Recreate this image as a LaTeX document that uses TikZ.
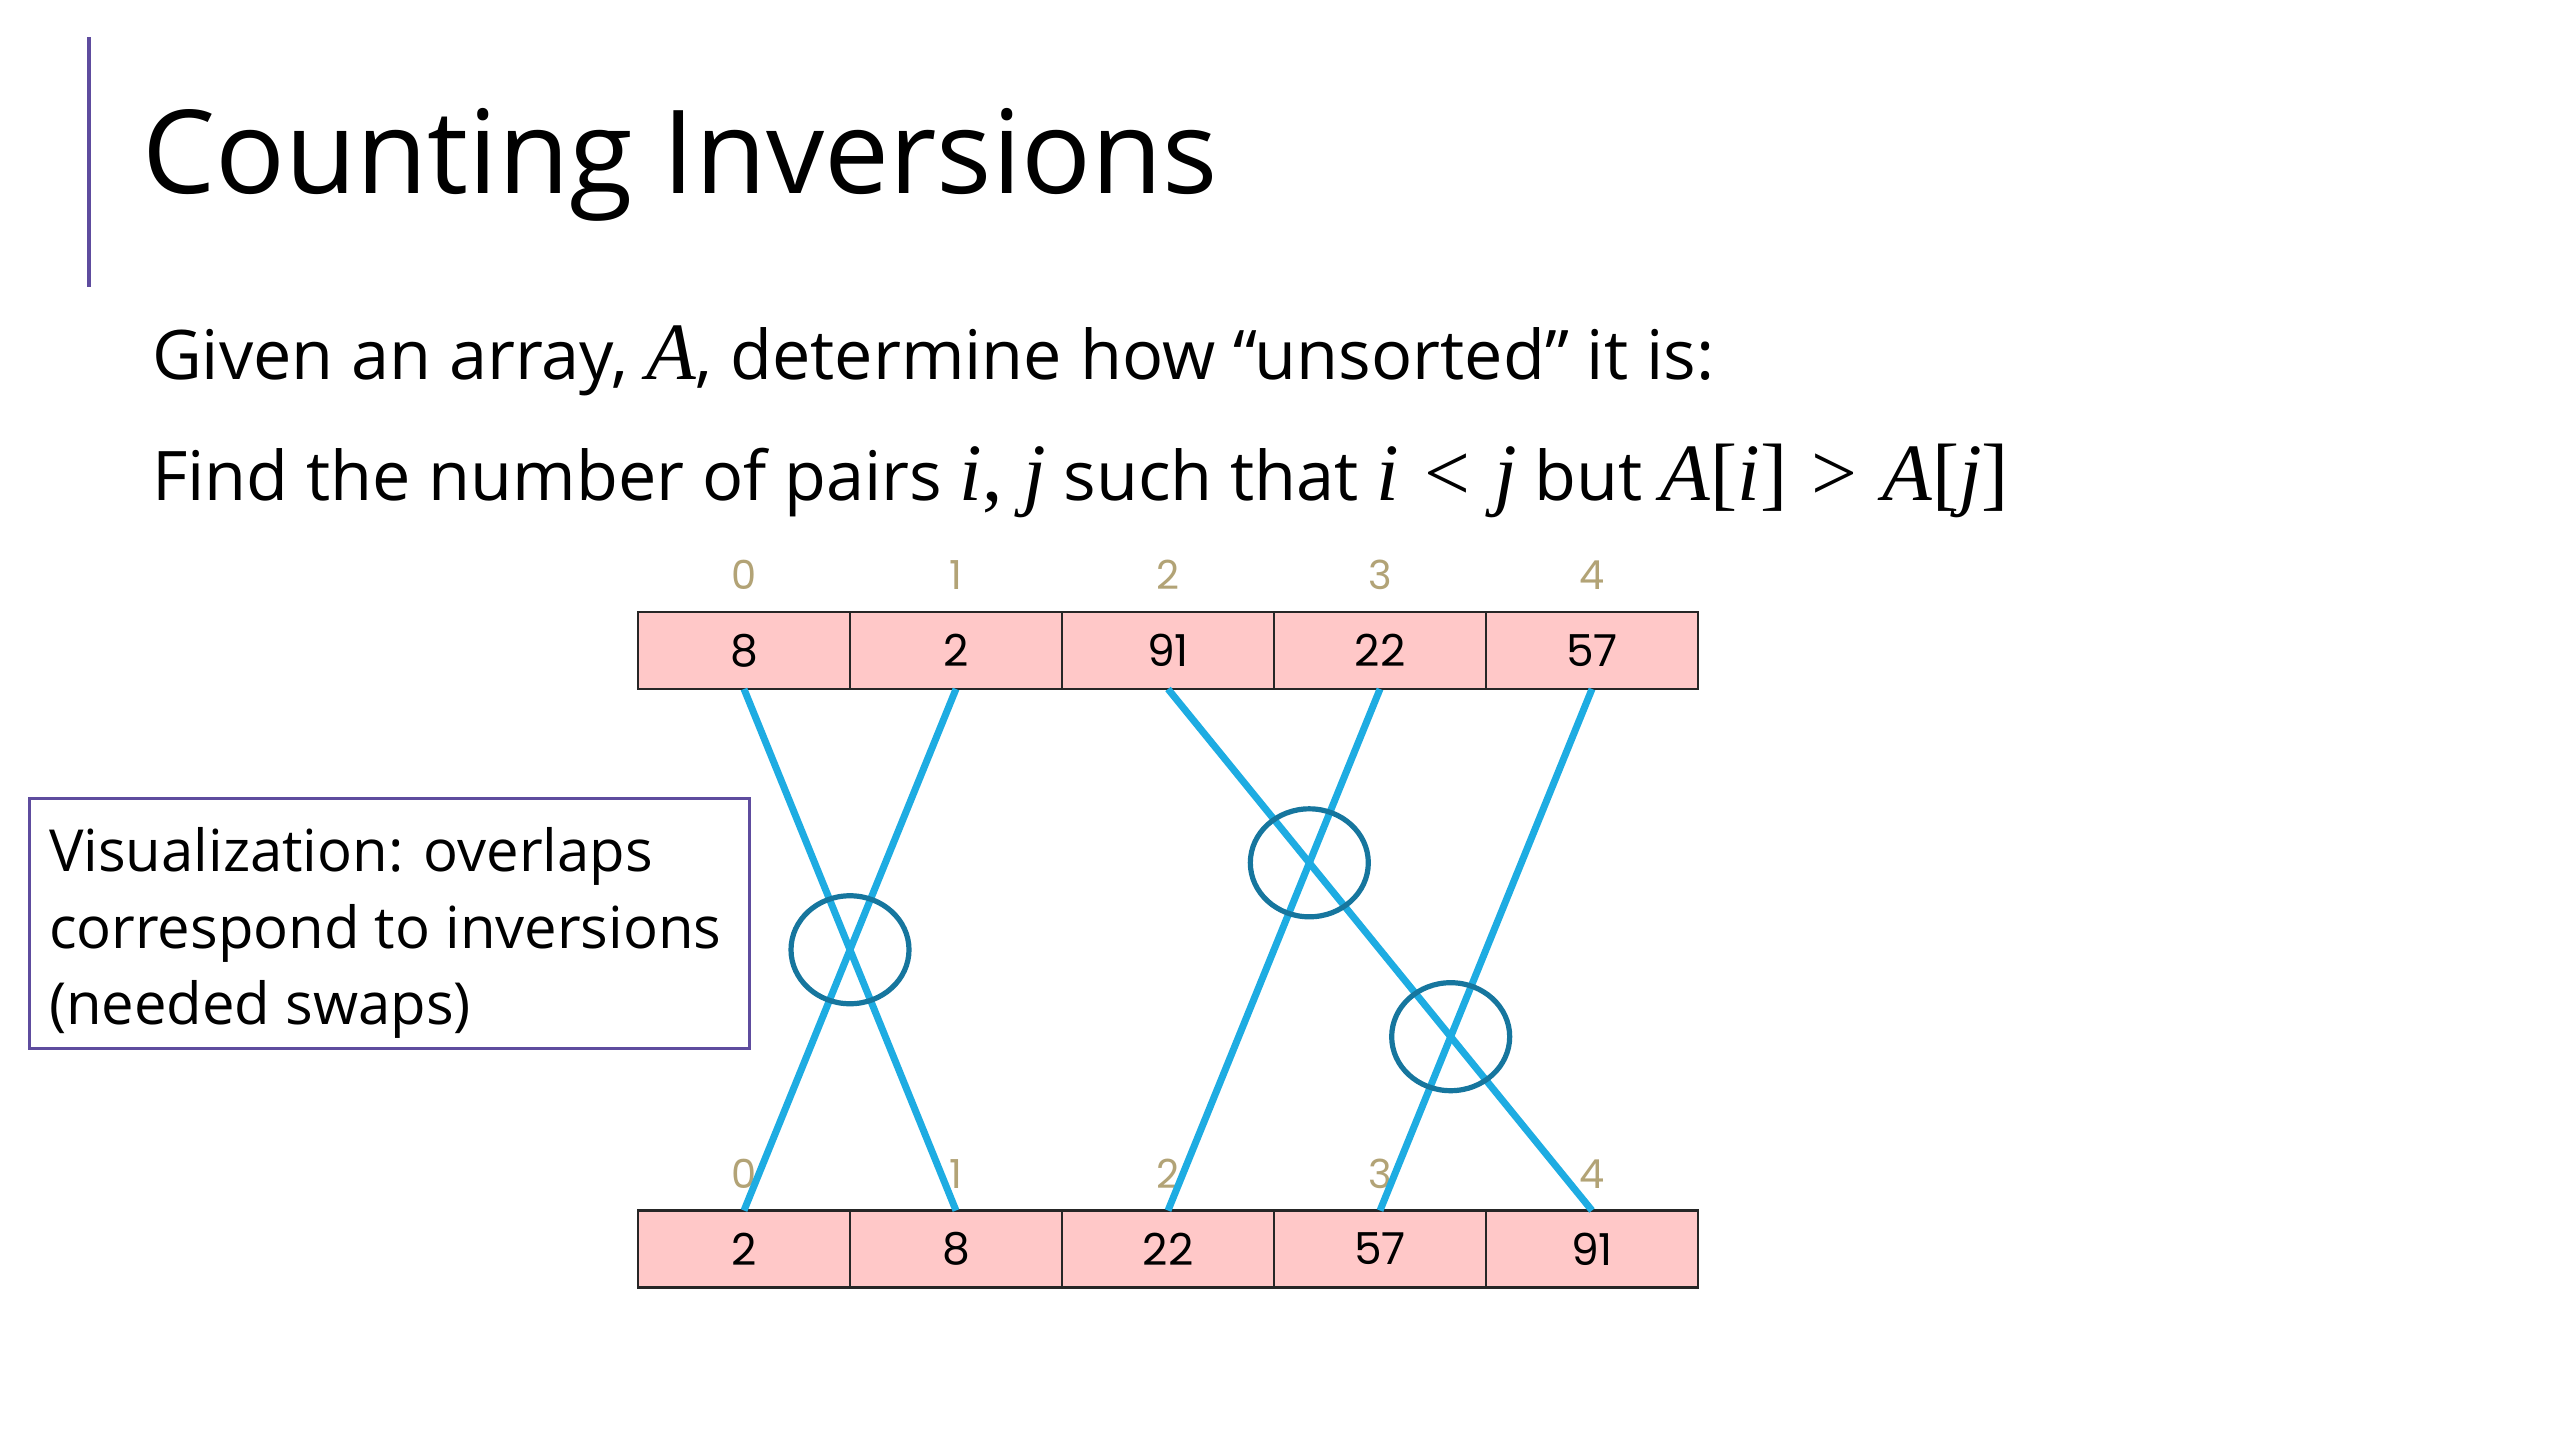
\documentclass[tikz,border=0pt]{standalone}
\usepackage{fontspec}
\setmainfont{Open Sans}
\newfontfamily\digitfont{Poppins}
\newfontfamily\mfont[Scale=1.19]{Liberation Serif}
\newcommand\mv[1]{{\mfont\itshape #1}}
\newcommand\ms[1]{{\mfont #1}}
\newcommand\rel[1]{\hspace{0.36em}\ms{#1}\hspace{0.36em}}
\usetikzlibrary{calc}
\definecolor{accentpurple}{RGB}{94,76,158}
\definecolor{cellpink}{RGB}{255,200,200}
\definecolor{idxtan}{RGB}{178,163,118}
\definecolor{linkblue}{RGB}{30,172,226}
\definecolor{ringteal}{RGB}{22,118,158}
\tikzset{
  cell/.style={draw=black!85, line width=1.1pt, fill=cellpink, minimum width=106pt, minimum height=38.5pt, inner sep=0pt, outer sep=0pt, font=\digitfont\fontsize{22}{26}\selectfont},
  idx/.style={text=idxtan, inner sep=0pt, font=\digitfont\fontsize{20}{24}\selectfont},
  conn/.style={draw=linkblue, line width=3.5pt},
  ring/.style={draw=ringteal, line width=2.6pt},
  txt/.style={anchor=base west, inner sep=0pt, outer sep=0pt},
  bodytxt/.style={txt, font=\fontsize{34.2}{42}\selectfont},
  notetxt/.style={txt, font=\fontsize{29}{36}\selectfont}
}
\begin{document}
\begin{tikzpicture}[x=0.5pt,y=-0.5pt]
\useasboundingbox (0,0) rectangle (2560,1440);
\fill[white] (0,0) rectangle (2560,1440);
% accent bar
\draw[accentpurple, line width=2pt] (89,37) -- (89,287);
% title
\node[txt, font=\fontsize{58}{70}\selectfont] (title) at (142,193) {Counting Inversions};
% body text
\node[bodytxt] (line1) at (152,379) {Given an array, \mv{A}, determine how “unsorted” it is:};
\node[bodytxt] (line2) at (152,500) {Find the number of pairs \mv{i}\ms{,}\hspace{0.3em}\mv{j} such that \mv{i}\rel{<}\mv{j} but \mv{A}\ms{[}\mv{i}\ms{]}\rel{>}\mv{A}\ms{[}\mv{j}\ms{]}};
% arrays
\foreach \k/\v in {0/8,1/2,2/91,3/22,4/57}{
  \node[cell] (t\k) at ({744+212*\k},650.5) {\v};
  \node[idx] (ti\k) at ({744+212*\k},575) {\k};
}
\foreach \k/\v in {0/2,1/8,2/22,3/57,4/91}{
  \node[cell] (b\k) at ({744+212*\k},1249) {\v};
  \node[idx] (bi\k) at ({744+212*\k},1174) {\k};
}
% connectors
\draw[conn] (t0.south) -- (b1.north);
\draw[conn] (t1.south) -- (b0.north);
\draw[conn] (t2.south) -- (b4.north);
\draw[conn] (t3.south) -- (b2.north);
\draw[conn] (t4.south) -- (b3.north);
% rings at crossings
\draw[ring] ($(t0.south)!0.5!(b1.north)$) ellipse [x radius=29.5pt, y radius=27pt];
\draw[ring] ($(t2.south)!0.3333!(b4.north)$) ellipse [x radius=29.5pt, y radius=27pt];
\draw[ring] ($(t2.south)!0.6667!(b4.north)$) ellipse [x radius=29.5pt, y radius=27pt];
% note box
\node[draw=accentpurple, line width=1.5pt, minimum width=360pt, minimum height=125pt, inner sep=0pt, anchor=north west] (note) at (28,797) {};
\node[notetxt] (note1) at (49,871) {Visualization: overlaps};
\node[notetxt] (note2) at (49,948) {correspond to inversions};
\node[notetxt] (note3) at (49,1024) {(needed swaps)};
\end{tikzpicture}
\end{document}
